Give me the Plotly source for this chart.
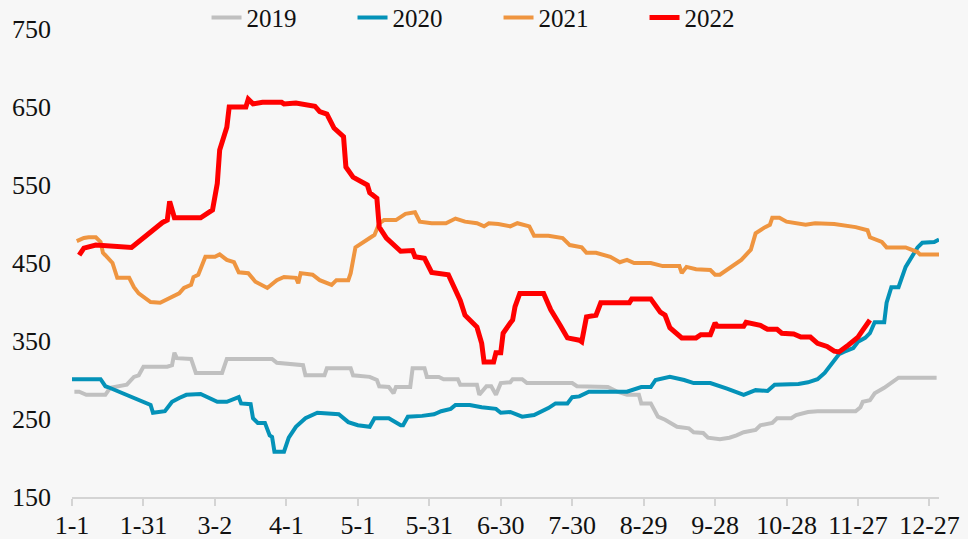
import plotly.graph_objects as go

# ---- data (x = days since 1-1, y = value) ----
days_2019 = [1, 3, 6, 14, 16, 23, 26, 28, 30, 40, 42, 43, 44, 50, 52, 63, 65, 84, 86, 94, 97, 98,
             106, 107, 117, 118, 125, 128, 129, 133, 135, 136, 142, 143, 148, 149, 154, 156, 162,
             163, 170, 171, 174, 176, 178, 180, 184, 185, 189, 191, 210, 212, 217, 220, 225, 229,
             233, 238, 239, 243, 245, 246, 249, 254, 259, 261, 265, 267, 272, 276, 279, 282, 287,
             289, 294, 296, 302, 304, 309, 313, 322, 329, 331, 332, 335, 337, 341, 344, 347, 363]
vals_2019 = [285, 285, 281, 281, 290, 294, 304, 306, 317, 317, 319, 335, 328, 327, 309, 309, 327, 327,
             322, 319, 319, 306, 306, 315, 315, 306, 304, 300, 292, 291, 283, 291, 291, 315, 315, 304,
             304, 301, 301, 294, 294, 281, 292, 292, 281, 296, 297, 301, 301, 296, 296, 292, 292, 291,
             291, 285, 281, 281, 270, 270, 259, 253, 249, 240, 238, 233, 232, 226, 224, 226, 229, 233,
             236, 242, 245, 251, 251, 255, 259, 260, 260, 260, 265, 272, 274, 283, 290, 296, 303, 303]

days_2020 = [0, 12, 14, 15, 33, 34, 39, 42, 45, 48, 54, 57, 61, 65, 70, 71, 75, 76, 78, 81, 83, 84,
             85, 89, 91, 94, 98, 103, 112, 116, 120, 125, 127, 133, 138, 139, 141, 147, 152, 155, 159,
             161, 167, 172, 178, 180, 184, 189, 194, 200, 203, 208, 210, 213, 217, 233, 239, 243, 245,
             251, 257, 261, 268, 275, 282, 287, 292, 295, 301, 305, 309, 313, 316, 322, 324, 328, 330,
             333, 335, 337, 341, 342, 344, 347, 350, 352, 355, 357, 362, 364]
vals_2020 = [301, 301, 292, 291, 268, 258, 260, 272, 277, 281, 282, 278, 272, 272, 278, 270, 269, 251,
             245, 245, 229, 227, 208, 208, 226, 240, 251, 258, 256, 246, 242, 240, 251, 251, 242, 242,
             253, 254, 256, 260, 263, 268, 268, 265, 263, 258, 259, 253, 255, 264, 270, 270, 278, 279,
             285, 285, 291, 291, 300, 304, 300, 296, 296, 289, 281, 287, 286, 294, 295, 295, 297, 301,
             309, 333, 336, 341, 349, 354, 360, 374, 374, 399, 419, 419, 445, 456, 470, 476, 477, 480]

days_2021 = [2, 5, 7, 10, 12, 13, 14, 17, 19, 24, 26, 28, 33, 37, 45, 47, 50, 51, 53, 56, 60, 62, 65,
             68, 70, 74, 77, 82, 86, 89, 94, 95, 96, 101, 104, 108, 109, 111, 116, 117, 119, 125, 127,
             129, 131, 136, 138, 140, 144, 146, 151, 157, 161, 165, 170, 173, 175, 179, 184, 187, 192,
             194, 200, 203, 206, 209, 214, 216, 220, 226, 230, 233, 236, 243, 248, 255, 256, 258, 262,
             268, 270, 272, 276, 281, 285, 287, 291, 293, 294, 297, 300, 308, 312, 320, 329, 334, 335,
             340, 342, 350, 355, 356, 365]
vals_2021 = [478, 482, 483, 483, 477, 463, 460, 450, 431, 431, 419, 411, 400, 399, 411, 418, 422, 432,
             435, 458, 458, 461, 454, 451, 438, 437, 426, 418, 428, 432, 431, 424, 437, 435, 428, 424,
             422, 428, 428, 437, 470, 482, 486, 501, 505, 505, 509, 513, 515, 503, 501, 501, 507, 503,
             501, 497, 501, 500, 497, 501, 497, 485, 485, 483, 482, 473, 470, 463, 463, 458, 451, 454,
             450, 450, 446, 446, 437, 445, 442, 441, 435, 435, 443, 454, 467, 488, 496, 499, 508, 508,
             503, 499, 501, 500, 496, 492, 483, 477, 470, 470, 464, 461, 461]

days_2022 = [3, 5, 10, 25, 38, 40, 41, 43, 54, 59, 61, 62, 65, 66, 73, 74, 76, 80, 88, 89, 94, 102,
             104, 107, 110, 112, 114, 115, 118, 124, 125, 128, 129, 132, 138, 143, 144, 148, 151, 158,
             161, 163, 165, 170, 172, 173, 177, 178, 180, 181, 184, 185, 186, 188, 198, 201, 205, 208,
             213, 214, 216, 220, 222, 234, 235, 243, 247, 249, 251, 256, 262, 264, 268, 270, 271, 282,
             283, 289, 292, 296, 298, 303, 306, 310, 313, 317, 320, 322, 326, 330, 332, 335]
vals_2022 = [460, 469, 473, 470, 502, 505, 529, 508, 508, 518, 552, 595, 624, 650, 650, 660, 654, 656,
             656, 654, 655, 651, 644, 641, 623, 617, 612, 573, 560, 550, 540, 533, 496, 482, 465, 466,
             458, 456, 438, 435, 415, 402, 383, 368, 347, 323, 323, 335, 335, 360, 373, 377, 394, 411,
             411, 390, 370, 354, 351, 349, 381, 383, 399, 399, 404, 404, 387, 383, 367, 354, 354, 358,
             358, 373, 369, 369, 374, 370, 365, 365, 360, 359, 355, 355, 347, 343, 337, 336, 345, 355,
             364, 377]

tick_days = [0, 30, 60, 90, 120, 150, 180, 210, 240, 270, 300, 330, 360]
tick_text = ['1-1', '1-31', '3-2', '4-1', '5-1', '5-31', '6-30', '7-30', '8-29', '9-28',
             '10-28', '11-27', '12-27']

series = [
    ('2019', days_2019, vals_2019, '#c0c0c0', 4),
    ('2020', days_2020, vals_2020, '#0492b8', 4),
    ('2021', days_2021, vals_2021, '#ef9540', 4),
    ('2022', days_2022, vals_2022, '#ff0000', 5),
]

fig = go.Figure()
for name, x, y, color, w in series:
    fig.add_trace(go.Scatter(x=x, y=y, mode='lines', name=name,
                             line=dict(color=color, width=w)))

fig.update_xaxes(
    range=[0, 364],
    tickvals=tick_days,
    ticktext=tick_text,
    showgrid=False,
    zeroline=False,
    showline=True,
    linecolor='#d4d4d4',
    linewidth=2,
    ticks='outside',
    tickcolor='#d4d4d4',
    tickwidth=2,
    ticklen=7,
    ticklabelstandoff=-3,
    automargin=False,
)
fig.update_yaxes(
    range=[150, 750],
    tickvals=[150, 250, 350, 450, 550, 650, 750],
    showgrid=False,
    zeroline=False,
    showline=False,
    ticks='',
    ticklabelstandoff=20,
    automargin=False,
)

fig.update_layout(
    width=968,
    height=539,
    paper_bgcolor='#f7f7f7',
    plot_bgcolor='#f7f7f7',
    margin=dict(l=72, r=29, t=29, b=42, autoexpand=False),
    font=dict(family='Liberation Serif, Times New Roman, serif', size=26, color='#111111'),
    showlegend=True,
    legend=dict(
        orientation='h',
        xref='container', yref='container',
        x=0.515, y=0.967,
        xanchor='center', yanchor='middle',
        bgcolor='rgba(0,0,0,0)',
        font=dict(size=25),
        entrywidth=101,
    ),
)

# drop the default page margin so the figure fills the window
fig.write_html('out.html',
               config={'displayModeBar': False},
               post_script="document.body.style.margin='0';"
                           "document.body.style.backgroundColor='#f7f7f7';")
